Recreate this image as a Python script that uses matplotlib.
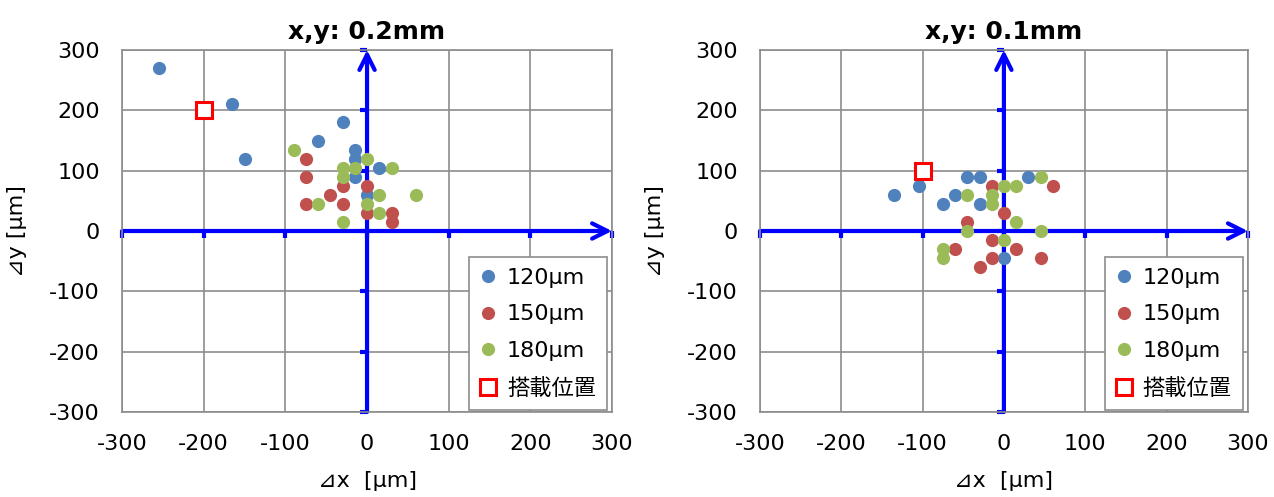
import matplotlib
matplotlib.use("Agg")
from matplotlib import pyplot as plt

plt.rcParams['font.family'] = ['DejaVu Sans', 'Noto Sans CJK JP']
plt.rcParams['axes.unicode_minus'] = False

# panel titles
titles = ["x,y: 0.2mm", "x,y: 0.1mm"]
series_labels = ["120μm", "150μm", "180μm"]
target_label = "搭載位置"
colors = ["#4F81BD", "#C0504D", "#9BBB59"]

# left panel (0.2mm)
l_120_x = [-255, -165, -150, -30, -60, -15, -15, -15, 15, 0]
l_120_y = [270, 210, 120, 180, 150, 135, 120, 90, 105, 60]
l_150_x = [-75, -75, -75, -45, -30, -30, 0, 0, 30, 30]
l_150_y = [120, 90, 45, 60, 75, 45, 75, 30, 30, 15]
l_180_x = [-90, -60, -30, -30, -15, 0, 30, 15, 0, 15, -30, 60]
l_180_y = [135, 45, 105, 90, 105, 120, 105, 60, 45, 30, 15, 60]
l_target = (-200, 200)

# right panel (0.1mm)
r_120_x = [-135, -105, -75, -60, -45, -30, -30, 30, 0]
r_120_y = [60, 75, 45, 60, 90, 90, 45, 90, -45]
r_150_x = [-15, 60, 0, -45, -15, -60, 15, -15, -30, 45]
r_150_y = [75, 75, 30, 15, -15, -30, -30, -45, -60, -45]
r_180_x = [0, 15, 45, -45, -15, -15, 15, -45, 45, 0, -75, -75]
r_180_y = [75, 75, 90, 60, 60, 45, 15, 0, 0, -15, -30, -45]
r_target = (-100, 100)

ticks = [-300, -200, -100, 0, 100, 200, 300]

panels = [
    ([(l_120_x, l_120_y), (l_150_x, l_150_y), (l_180_x, l_180_y)], l_target),
    ([(r_120_x, r_120_y), (r_150_x, r_150_y), (r_180_x, r_180_y)], r_target),
]
positions = [[0.0958, 0.171, 0.3846, 0.7284], [0.5965, 0.171, 0.383, 0.7284]]

fig = plt.figure(figsize=(12.74, 4.97), dpi=100)

for i, (series, target) in enumerate(panels):
    ax = fig.add_axes(positions[i])
    ax.set_xlim(-300, 300)
    ax.set_ylim(-300, 300)
    ax.set_xticks(ticks)
    ax.set_yticks(ticks)
    ax.grid(True, color="#8c8c8c", linewidth=1.2)
    ax.set_axisbelow(True)
    for sp in ax.spines.values():
        sp.set_color("#8c8c8c")
        sp.set_linewidth(1.2)
    ax.tick_params(length=0, labelsize=16, pad=16)

    # blue axes through origin with arrow heads
    arrow = dict(arrowstyle="->,head_length=1.1,head_width=0.55",
                 color="#0000FF", lw=3, shrinkA=0, shrinkB=0)
    ax.annotate("", xy=(300, 0), xytext=(-300, 0), arrowprops=arrow,
                annotation_clip=False, zorder=2)
    ax.annotate("", xy=(0, 300), xytext=(0, -300), arrowprops=arrow,
                annotation_clip=False, zorder=2)
    ax.plot(ticks, [0] * len(ticks), linestyle="none", marker=3, markersize=5,
            markeredgewidth=3, color="#0000FF", clip_on=False, zorder=2)
    ax.plot([0] * len(ticks), ticks, linestyle="none", marker=0, markersize=5,
            markeredgewidth=3, color="#0000FF", clip_on=False, zorder=2)

    for (xs, ys), c, lab in zip(series, colors, series_labels):
        ax.plot(xs, ys, linestyle="none", marker="o", markersize=9.5,
                color=c, markeredgewidth=0, label=lab, zorder=3)
    ax.plot([target[0]], [target[1]], linestyle="none", marker="s", markersize=11,
            markerfacecolor="white", markeredgecolor="#FF0000", markeredgewidth=2.2,
            label=target_label, zorder=4)

    ax.set_title(titles[i], fontsize=18, fontweight="bold", pad=8)
    ax.set_xlabel("⊿x  [μm]", fontsize=16, labelpad=12)
    ax.set_ylabel("⊿y [μm]", fontsize=16, labelpad=16)

    leg = ax.legend(loc="lower right", bbox_to_anchor=(0.99, 0.006), borderaxespad=0,
                    fontsize=16, handlelength=0.7, handletextpad=0.5, labelspacing=0.75,
                    borderpad=0.5, fancybox=False, framealpha=1, edgecolor="#8c8c8c")
    leg.get_frame().set_linewidth(1.2)

fig.savefig("out.png", dpi=100)
